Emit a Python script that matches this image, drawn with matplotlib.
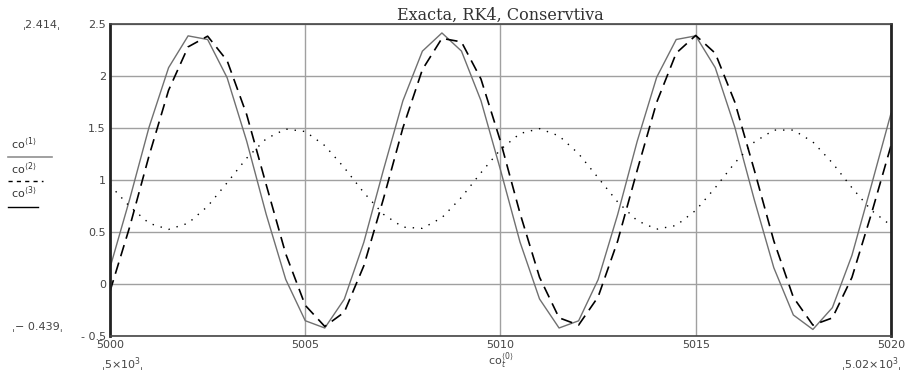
import matplotlib.pyplot as plt
from matplotlib.lines import Line2D

# time samples (co<0>) and the three solutions
t = [5000 + 0.5 * i for i in range(41)]

exacta = [0.156, 0.810, 1.508, 2.080, 2.386, 2.351, 1.983, 1.374, 0.670, 0.044,
          -0.353, -0.423, -0.146, 0.401, 1.094, 1.761, 2.239, 2.414, 2.240, 1.763,
          1.097, 0.403, -0.144, -0.423, -0.354, 0.042, 0.667, 1.371, 1.988, 2.351,
          2.386, 2.080, 1.509, 0.810, 0.156, -0.298, -0.437, -0.227, 0.275, 0.951,
          1.640]

rk4 = [-0.070, 0.544, 1.233, 1.863, 2.280, 2.383, 2.147, 1.629, 0.955, 0.290,
       -0.205, -0.408, -0.271, 0.175, 0.816, 1.500, 2.062, 2.362, 2.328, 1.971,
       1.372, 0.680, 0.065, -0.325, -0.395, -0.124, 0.412, 1.092, 1.747, 2.220,
       2.390, 2.219, 1.750, 1.095, 0.414, -0.128, -0.395, -0.326, 0.063, 0.677,
       1.330]

conserv = [0.950, 0.747, 0.584, 0.525, 0.584, 0.747, 0.974, 1.210, 1.397, 1.490,
           1.466, 1.331, 1.118, 0.879, 0.671, 0.547, 0.535, 0.638, 0.833, 1.070,
           1.293, 1.447, 1.494, 1.424, 1.253, 1.022, 0.789, 0.609, 0.527, 0.563,
           0.708, 0.926, 1.164, 1.365, 1.480, 1.480, 1.366, 1.164, 0.926, 0.708,
           0.563]

yticks = [-0.5, 0, 0.5, 1, 1.5, 2, 2.5]
ytick_labels = ['- 0.5', '0', '0.5', '1', '1.5', '2', '2.5']
xticks = [5000, 5005, 5010, 5015, 5020]

fig = plt.figure(figsize=(9.19, 3.78), dpi=100)
ax = fig.add_axes([0.1197, 0.1111, 0.8498, 0.8254])

ax.plot(t, exacta, color='#707070', lw=1.0)
ax.plot(t, rk4, color='black', lw=1.2, dashes=(7, 4))
ax.plot(t, conserv, color='black', lw=1.0, dashes=(1, 5))

ax.set_xlim(5000, 5020)
ax.set_ylim(-0.5, 2.5)
ax.set_xticks(xticks)
ax.set_xticklabels([str(x) for x in xticks], fontsize=8, color='#444444')
ax.set_yticks(yticks)
ax.set_yticklabels(ytick_labels, fontsize=8, color='#444444')
ax.tick_params(length=0, pad=3)
ax.grid(True, color='#a0a0a0', lw=1)
ax.set_axisbelow(True)

for side in ['left', 'right']:
    ax.spines[side].set_linewidth(2)
    ax.spines[side].set_color('#222222')
for side in ['top', 'bottom']:
    ax.spines[side].set_linewidth(1.2)
    ax.spines[side].set_color('#444444')

ax.set_title('Exacta, RK4, Conservtiva', fontsize=11.5, family='DejaVu Serif',
             color='#333333', pad=3)

# range markers as Mathcad shows them
fig.text(0.025, 0.935, '\u02cc2.414\u02cc', fontsize=8, color='#444444', va='center')
fig.text(0.013, 0.135, '\u02cc\u2212 0.439\u02cc', fontsize=8, color='#444444', va='center')
fig.text(0.11, 0.035, '\u02cc5\u00d710$^3$\u02cc', fontsize=8, color='#444444', va='center')
fig.text(0.915, 0.035, '\u02cc5.02\u00d710$^3$\u02cc', fontsize=8, color='#444444', va='center')
fig.text(0.545, 0.045, 'co$_t^{\\langle 0\\rangle}$', fontsize=8, color='#444444',
         ha='center', va='center')

# legend in the y label area
labels = ['co$^{\\langle 1\\rangle}$', 'co$^{\\langle 2\\rangle}$', 'co$^{\\langle 3\\rangle}$']
ly = [0.62, 0.555, 0.49]
for lab, y in zip(labels, ly):
    fig.text(0.012, y, lab, fontsize=8, color='#333333', va='center')
fig.add_artist(Line2D([0.009, 0.057], [0.585, 0.585], color='#909090', lw=1.2))
fig.add_artist(Line2D([0.009, 0.047], [0.52, 0.52], color='black', lw=1, dashes=(3, 3)))
fig.add_artist(Line2D([0.009, 0.041], [0.452, 0.452], color='black', lw=1))

plt.savefig('out.png')
